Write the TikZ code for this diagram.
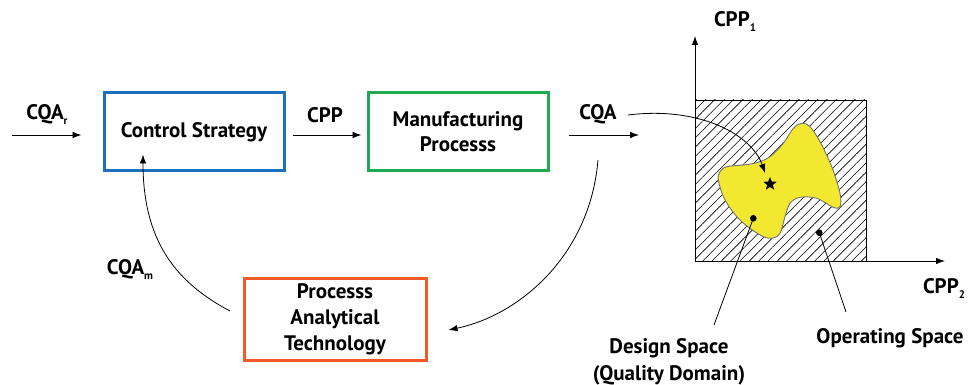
\documentclass[tikz,border=0pt]{standalone}
\usepackage{fontspec}
\setmainfont{PT Sans}
\usetikzlibrary{arrows.meta,patterns.meta,shapes.geometric}
\definecolor{cblue}{RGB}{30,112,188}
\definecolor{cgreen}{RGB}{30,170,80}
\definecolor{corange}{RGB}{240,90,40}
\definecolor{cyellow}{RGB}{242,232,48}
\newcommand{\lowsub}[1]{\raisebox{-5pt}{\fontsize{11}{11}\selectfont #1}}
\begin{document}
\begin{tikzpicture}[x=1pt,y=-1pt,
  lbl/.style={font=\bfseries\fontsize{21}{22}\selectfont, inner sep=0pt},
  box/.style={draw, line width=3pt, minimum width=180pt, minimum height=78pt, align=center,
              font=\bfseries\fontsize{21}{25}\selectfont, inner sep=0pt},
  arr/.style={-{Latex[length=9pt,width=6.5pt]}, line width=0.8pt},
  thin/.style={line width=0.8pt}]
\useasboundingbox (0,0) rectangle (970,385);
% boxes
\node[box, draw=cblue] (cs) at (194,132) {Control Strategy};
\node[box, draw=cgreen] (mp) at (458,132) {Manufacturing\\Processs};
\node[box, draw=corange, minimum width=182pt, minimum height=82pt, font=\bfseries\fontsize{21}{26}\selectfont] (pat) at (335,319) {Processs\\Analytical\\Technology};
% labels
\node[lbl] (cqar) at (47,115) {CQA\lowsub{r}};
\node[lbl] (cpp) at (325,115) {CPP};
\node[lbl] (cqa) at (598,114) {CQA};
\node[lbl] (cqam) at (130,270) {CQA\lowsub{m}};
\node[lbl] (cpp1) at (735,22) {CPP\lowsub{1}};
\node[lbl] (cpp2) at (944,289) {CPP\lowsub{2}};
\node[lbl, align=center, font=\bfseries\fontsize{21}{27}\selectfont] (ds) at (669,362) {Design Space\\(Quality Domain)};
\node[lbl] (os) at (890,338) {Operating Space};
% straight arrows
\coordinate (inL) at (12,135);
\coordinate (outR) at (639,135);
\draw[arr] (inL) -- ([xshift=-21pt]cs.west |- inL);
\draw[arr] ([xshift=7pt]cs.east |- inL) -- ([xshift=-5pt]mp.west |- inL);
\draw[arr] ([xshift=19pt]mp.east |- inL) -- (outR);
% design space plot
\coordinate (O) at (695,261);
\coordinate (ytop) at (695,36);
\coordinate (xend) at (945,261);
\fill[pattern={Lines[angle=45,distance=6.6pt,line width=0.6pt]}] (695,100) rectangle (866,261);
\draw[line width=0.8pt] (695,100) rectangle (866,261);
\draw[arr] (O) -- (ytop);
\draw[arr] (O) -- (xend);
\draw[fill=cyellow, draw=black!55, line width=0.9pt] plot[smooth cycle, tension=0.55] coordinates {
 (720,171.7) (726.7,166.7) (743.3,165) (756.7,162.7) (770,156.7) (783.3,143.3) (793.3,128.3)
 (801.7,123.3) (810,126.7) (820,141.7) (831.7,166.7) (840,193.3) (840,206.7) (833.3,207.3)
 (816.7,198.3) (800,197.3) (790,203.3) (785,216.7) (780,233.3) (771.7,238.3) (760,235)
 (740,220) (725,200) (718.3,180)};
\node[star, star points=5, star point ratio=2.3, fill=black, inner sep=0pt, minimum size=14pt] (st) at (770,184) {};
\fill (753.3,218.3) circle (3.3pt) coordinate (dsd);
\fill (819.3,232.7) circle (3.3pt) coordinate (osd);
\draw[thin] (dsd) -- (714,325);
\draw[thin] (osd) -- (846,312);
% curved arrows
\coordinate (cqastart) at (628,115);
\coordinate (sttip) at (765,173);
\draw[arr] (cqastart) .. controls (700,106) and (752,135) .. (sttip);
\coordinate (mpout) at (598,160);
\draw[arr] (mpout) .. controls (590,255) and (520,315) .. ([xshift=21pt]pat.east |- 0,330);
\coordinate (patout) at (230,311);
\draw[arr] (patout) .. controls (175,282) and (143,240) .. ([yshift=18pt]cs.south -| 143,0);
\end{tikzpicture}
\end{document}
